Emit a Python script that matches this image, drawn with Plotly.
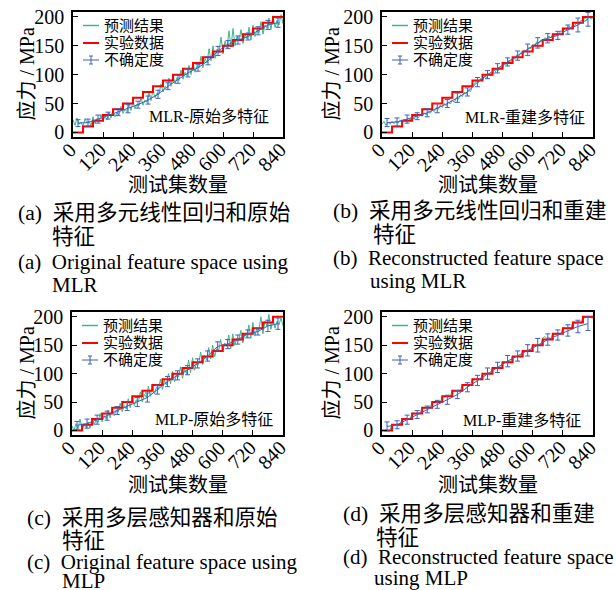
import plotly.graph_objects as go

W, H = 616, 590
FONT = "Liberation Serif, Noto Sans CJK SC"
GREEN = "#3cb88a"
RED = "#ff0000"
BLUE = "#3f5fbf"

# ---------------- data ----------------
sample_step = 8
sample_x = list(range(0, 841, sample_step))  # test-set sample index

exp_x = [0, 40, 80, 120, 160, 200, 240, 280, 320, 360, 400, 440, 480, 520, 560,
         600, 640, 680, 720, 760, 800, 840]
exp_y = [0, 10, 20, 30, 40, 50, 60, 70, 80, 90, 100, 110, 120, 130, 140,
         150, 160, 170, 180, 190, 200, 200]

unc_x = [20, 60, 100, 140, 180, 220, 260, 300, 340, 380, 420, 460, 500, 540,
         580, 620, 660, 700, 740, 780, 820]

pred_a = [22, 12, 25, 14, 18, 10, 24, 16, 20, 11,
          27, 15, 24, 18, 31, 19, 28, 22, 35, 25,
          38, 27, 34, 30, 45, 33, 40, 36, 50, 38,
          54, 41, 49, 46, 60, 47, 56, 52, 70, 55,
          74, 60, 68, 66, 84, 70, 80, 76, 94, 80,
          100, 84, 95, 90, 108, 92, 104, 98, 116, 100,
          122, 104, 116, 112, 132, 112, 128, 120, 145, 124,
          150, 128, 144, 138, 165, 136, 158, 146, 176, 148,
          180, 150, 166, 158, 178, 154, 170, 162, 182, 160,
          186, 166, 178, 172, 192, 170, 186, 180, 198, 178,
          202, 182, 194, 186, 204, 188]
pred_b = [14, 19, 12, 18, 14, 19, 15, 20, 16, 21,
          17, 23, 19, 25, 21, 27, 23, 29, 25, 31,
          28, 34, 30, 36, 33, 39, 36, 43, 40, 47,
          43, 50, 46, 53, 49, 56, 52, 60, 57, 65,
          62, 70, 66, 74, 70, 80, 84, 90, 86, 93,
          90, 97, 95, 101, 98, 104, 102, 109, 107, 114,
          112, 119, 117, 124, 122, 129, 127, 134, 131, 138,
          136, 143, 140, 147, 145, 152, 150, 157, 154, 160,
          158, 164, 162, 167, 164, 170, 167, 172, 170, 176,
          174, 180, 178, 184, 181, 187, 185, 191, 188, 194,
          192, 199, 195, 200, 196, 199]
pred_c = [8, 0, 12, 3, 20, 2, 10, 5, 15, 4,
          22, 10, 18, 14, 30, 15, 26, 20, 36, 22,
          40, 26, 36, 32, 48, 33, 44, 38, 56, 40,
          60, 44, 54, 50, 68, 50, 64, 58, 78, 60,
          82, 64, 76, 72, 90, 72, 88, 80, 100, 82,
          104, 86, 98, 94, 112, 92, 108, 100, 124, 102,
          128, 106, 120, 116, 138, 116, 132, 124, 146, 126,
          150, 130, 144, 140, 160, 138, 154, 148, 168, 144,
          170, 150, 162, 158, 176, 154, 170, 164, 186, 162,
          190, 166, 180, 176, 200, 170, 192, 184, 204, 178,
          198, 180, 192, 186, 198, 184]
pred_d = [1, -1, 1, 0, 1, 11, 9, 11, 10, 9,
          21, 19, 20, 21, 19, 31, 29, 30, 31, 30,
          41, 39, 40, 41, 40, 51, 49, 50, 51, 49,
          61, 59, 60, 61, 60, 71, 69, 70, 71, 69,
          81, 79, 80, 81, 80, 91, 89, 90, 91, 89,
          101, 99, 100, 101, 100, 111, 109, 110, 111, 109,
          121, 119, 120, 121, 120, 131, 129, 130, 131, 129,
          141, 139, 140, 141, 140, 151, 149, 150, 151, 149,
          163, 165, 162, 164, 161, 171, 169, 170, 171, 169,
          181, 179, 180, 181, 180, 191, 189, 190, 191, 189,
          199, 198, 200, 199, 198, 198]

unc_a = [16, 17, 23, 29, 35, 41, 48, 56, 66, 80, 92, 103, 112, 124, 141, 152, 160, 166, 176, 186, 190]
err_a = [6, 6, 7, 6, 6, 7, 6, 7, 7, 6, 7, 7, 6, 7, 8, 7, 7, 6, 7, 8, 8]
unc_b = [17, 18, 23, 28, 34, 42, 50, 60, 70, 87, 100, 111, 122, 133, 143, 155, 163, 168, 178, 186, 196]
err_b = [7, 7, 7, 6, 7, 8, 7, 8, 7, 8, 7, 8, 7, 8, 10, 9, 8, 7, 8, 12, 12]
unc_c = [9, 12, 19, 26, 35, 43, 50, 58, 72, 86, 97, 106, 118, 131, 148, 152, 160, 170, 174, 184, 188]
err_c = [7, 8, 8, 8, 7, 8, 8, 8, 8, 9, 8, 8, 8, 9, 8, 8, 8, 7, 6, 10, 10]
unc_d = [7, 10, 19, 28, 37, 46, 54, 63, 76, 88, 100, 111, 122, 131, 141, 150, 160, 168, 176, 183, 188]
err_d = [8, 7, 8, 7, 6, 7, 8, 7, 8, 9, 10, 9, 10, 9, 10, 12, 10, 9, 10, 11, 12]

x_ticks = [0, 120, 240, 360, 480, 600, 720, 840]
y_ticks = [0, 50, 100, 150, 200]

legend_names = ["预测结果", "实验数据", "不确定度"]
x_title = "测试集数量"
y_title = "应力 / MPa"

panel_labels = ["MLR-原始多特征", "MLR-重建多特征", "MLP-原始多特征", "MLP-重建多特征"]
captions = [
    ["(a)\u2002采用多元线性回归和原始", "特征", "(a)\u2002Original feature space using", "MLR"],
    ["(b)\u2002采用多元线性回归和重建", "特征", "(b)\u2002Reconstructed feature space", "using MLR"],
    ["(c)\u2002采用多层感知器和原始", "特征", "(c)\u2002Original feature space using", "MLP"],
    ["(d)\u2002采用多层感知器和重建", "特征", "(d)\u2002Reconstructed feature space", "using MLP"],
]
caption_sizes = [21.6, 21.6, 21, 21]

preds = [pred_a, pred_b, pred_c, pred_d]
uncs = [unc_a, unc_b, unc_c, unc_d]
errs = [err_a, err_b, err_c, err_d]

# ---------------- layout (pixel boxes) ----------------
boxes = [(73, 283, 12, 137), (382, 593, 12, 137), (72, 283, 312, 435), (382, 593, 312, 435)]
ytitle_x = [26, 331, 26, 331]
xtitle_y = [185, 185, 485, 485]
label_pos = [(271, 117), (587, 118), (275, 419), (583, 420)]
cap_lines = [
    [(16, 213), (50, 237), (16, 262), (50, 285)],
    [(331, 211), (371, 235), (331, 258), (368, 281)],
    [(25, 518), (60, 541), (25, 562), (60, 581)],
    [(341, 514), (374, 538), (341, 557), (372, 578)],
]


def px(x):
    return x / W


def py(y):
    return 1 - y / H


fig = go.Figure()
annotations = []
shapes = []

for i in range(4):
    sfx = "" if i == 0 else str(i + 1)
    xa, ya = "x" + sfx, "y" + sfx
    fig.add_trace(go.Scatter(x=sample_x, y=preds[i], mode="lines",
                             line=dict(color=GREEN, width=1), xaxis=xa, yaxis=ya,
                             showlegend=False))
    fig.add_trace(go.Scatter(x=exp_x, y=exp_y, mode="lines",
                             line=dict(color=RED, width=2, shape="hv"), xaxis=xa, yaxis=ya,
                             showlegend=False))
    fig.add_trace(go.Scatter(x=unc_x, y=uncs[i], mode="lines",
                             line=dict(color=BLUE, width=1),
                             error_y=dict(type="data", array=errs[i], color=BLUE, thickness=1, width=2.5),
                             xaxis=xa, yaxis=ya, showlegend=False))

    L, R, T, B = boxes[i]
    fig.layout["xaxis" + sfx] = dict(
        domain=[px(L), px(R)], anchor=ya, range=[0, 840], tickvals=x_ticks,
        showticklabels=False,
        showline=True, linecolor="black", linewidth=1.5, mirror=True,
        ticks="inside", ticklen=5, tickwidth=1, tickcolor="black",
        showgrid=False, zeroline=False, automargin=False)
    fig.layout["yaxis" + sfx] = dict(
        domain=[py(B), py(T)], anchor=xa, range=[-8, 208.5], tickvals=y_ticks,
        showline=True, linecolor="black", linewidth=1.5, mirror=True,
        ticks="inside", ticklen=5, tickwidth=1, tickcolor="black",
        showgrid=False, zeroline=False, automargin=False, ticklabelstandoff=3,
        tickfont=dict(family=FONT, size=20, color="black"))

    # rotated x tick labels, positioned on the x axis scale
    for t in x_ticks:
        annotations.append(dict(text=str(t), x=t, xref=xa, y=py(B), yref="paper",
                                xanchor="right", yanchor="top", textangle=-45,
                                xshift=10, yshift=1, showarrow=False,
                                font=dict(family=FONT, size=20, color="black")))

    # axis titles
    annotations.append(dict(text=x_title, x=px((L + R) / 2), y=py(xtitle_y[i]), xref="paper", yref="paper",
                            xanchor="center", yanchor="middle", showarrow=False,
                            font=dict(family=FONT, size=20, color="black")))
    annotations.append(dict(text=y_title, x=px(ytitle_x[i]), y=py((T + B) / 2), xref="paper", yref="paper",
                            xanchor="center", yanchor="middle", showarrow=False, textangle=-90,
                            font=dict(family=FONT, size=20, color="black")))
    # panel label
    lx, ly = label_pos[i]
    annotations.append(dict(text=panel_labels[i], x=px(lx), y=py(ly), xref="paper", yref="paper",
                            xanchor="right", yanchor="middle", showarrow=False,
                            font=dict(family=FONT, size=16, color="black")))
    # legend (drawn manually)
    rows = [T + 13.5, T + 31, T + 48]
    cols = [GREEN, RED, BLUE]
    widths = [1.5, 2, 1]
    for r, c, w, name in zip(rows, cols, widths, legend_names):
        shapes.append(dict(type="line", xref="paper", yref="paper", x0=px(L + 10), x1=px(L + 26),
                           y0=py(r), y1=py(r), line=dict(color=c, width=w)))
        annotations.append(dict(text=name, x=px(L + 29), y=py(r), xref="paper", yref="paper",
                                xanchor="left", yanchor="middle", showarrow=False,
                                font=dict(family=FONT, size=15, color="black")))
    r = rows[2]
    cx = L + 18
    shapes.append(dict(type="line", xref="paper", yref="paper", x0=px(cx), x1=px(cx),
                       y0=py(r - 4), y1=py(r + 4), line=dict(color=BLUE, width=1)))
    for dy in (-4, 4):
        shapes.append(dict(type="line", xref="paper", yref="paper", x0=px(cx - 2), x1=px(cx + 2),
                           y0=py(r + dy), y1=py(r + dy), line=dict(color=BLUE, width=1)))
    # captions
    for (cx0, cy0), txt, fs in zip(cap_lines[i], captions[i], caption_sizes):
        annotations.append(dict(text=txt, x=px(cx0), y=py(cy0), xref="paper", yref="paper",
                                xanchor="left", yanchor="middle", showarrow=False,
                                font=dict(family=FONT, size=fs, color="black")))

fig.update_layout(width=W, height=H, margin=dict(l=0, r=0, t=0, b=0),
                  paper_bgcolor="white", plot_bgcolor="white",
                  annotations=annotations, shapes=shapes, showlegend=False)

fig.write_html("out.html", config={"displayModeBar": False},
               post_script="document.body.style.margin='0';document.body.style.overflow='hidden';")
